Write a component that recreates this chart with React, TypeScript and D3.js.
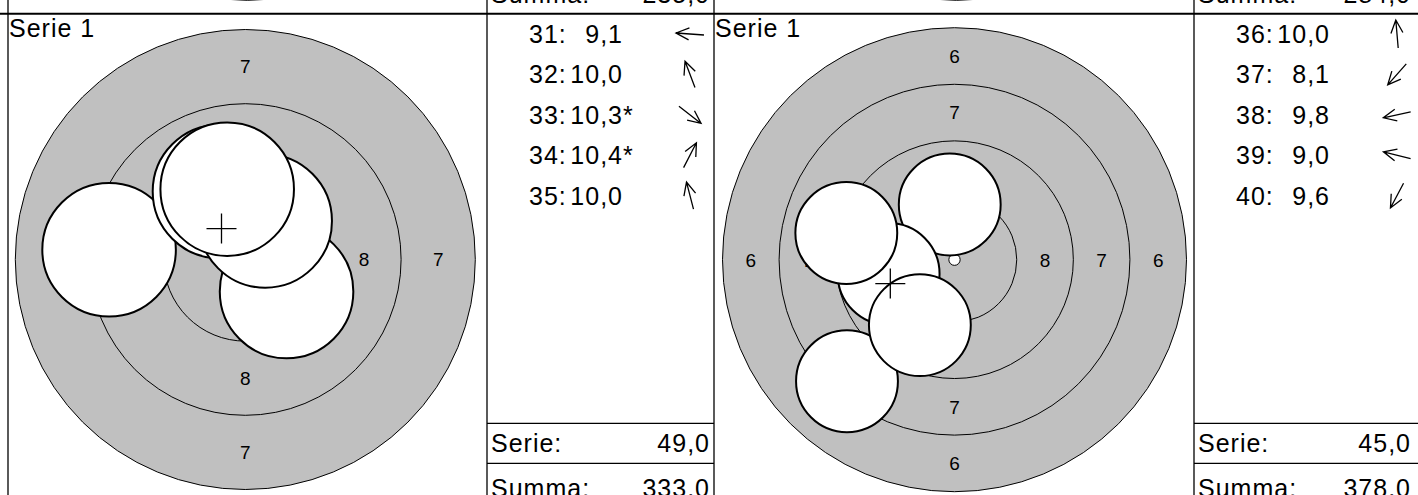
import { useEffect } from "react";
import * as d3 from "d3";

// ring geometry of the 10m air rifle target, in mm
const ringNumbers = [1, 2, 3, 4, 5, 6, 7, 8, 9, 10];
const ringRadiusMm = [22.75, 20.25, 17.75, 15.25, 12.75, 10.25, 7.75, 5.25, 2.75, 0.25];
const pelletRadiusMm = 2.25;

// one entry per panel
const seriesLabels = ["Serie 1", "Serie 1"];
const outerRings = [7, 6];
const shotNumbers = [
  [31, 32, 33, 34, 35],
  [36, 37, 38, 39, 40],
];
const shotScores = [
  ["9,1", "10,0", "10,3", "10,4", "10,0"],
  ["10,0", "8,1", "9,8", "9,0", "9,6"],
];
const innerTens = [
  [false, false, true, true, false],
  [false, false, false, false, false],
];
// shot centres in mm from target centre (x right, y up)
const shotX = [
  [-4.59, -0.87, 1.39, 0.67, -0.61],
  [-0.21, -4.75, -2.91, -4.78, -1.53],
];
const shotY = [
  [0.33, 2.29, -1.08, 1.3, 2.37],
  [2.44, -5.37, -0.63, 1.18, -2.89],
];
const serieTotals = ["49,0", "45,0"];
const summaTotals = ["333,0", "378,0"];
const previousSumma = ["235,0", "284,0"];

// layout
const W = 1418;
const H = 495;
const topLine = 13.7;
const targetCx = [245.3, 954.5];
const targetCy = [259.5, 259.7];
const targetR = [230, 232];
const panelLeft = [8, 714];
const listLeft = [487, 1194];
const listRight = [714, 1415];
const rowY0 = 34;
const rowStep = 40.4;
const serieLine = 423.3;
const summaLine = 463.3;

const font = "'Liberation Sans', Arial, Helvetica, sans-serif";

function Target({ p }: { p: number }) {
  const cx = targetCx[p];
  const cy = targetCy[p];
  const R = targetR[p];
  const outerIdx = ringNumbers.indexOf(outerRings[p]);
  const outerMm = ringRadiusMm[outerIdx];
  const x = d3.scaleLinear().domain([-outerMm, outerMm]).range([cx - R, cx + R]);
  const y = d3.scaleLinear().domain([-outerMm, outerMm]).range([cy + R, cy - R]);
  const k = R / outerMm;

  const rings = ringNumbers
    .map((n, i) => ({ n, r: ringRadiusMm[i] }))
    .filter((d) => d.n >= outerRings[p]);
  const labels = rings
    .filter((d) => d.n <= 8)
    .map((d) => {
      const next = ringRadiusMm[ringNumbers.indexOf(d.n) + 1];
      return { n: d.n, r: ((d.r + next) / 2) * k };
    });

  const mx = d3.mean(shotX[p]) as number;
  const my = d3.mean(shotY[p]) as number;

  return (
    <g>
      {rings.map((d) => (
        <circle
          key={d.n}
          cx={cx}
          cy={cy}
          r={d.r * k}
          fill={d.n === outerRings[p] ? "#c0c0c0" : d.n === 10 ? "#fff" : "none"}
          stroke="#000"
          strokeWidth={1}
        />
      ))}
      {labels.map((d) =>
        [
          [0, -d.r],
          [0, d.r],
          [-d.r, 0],
          [d.r, 0],
        ].map(([dx, dy], j) => (
          <text
            key={`${d.n}-${j}`}
            x={cx + dx}
            y={cy + dy}
            dy="0.36em"
            textAnchor="middle"
            fontSize={19}
            fontFamily={font}
          >
            {d.n}
          </text>
        )),
      )}
      {shotX[p].map((sx, i) => (
        <circle
          key={i}
          cx={x(sx)}
          cy={y(shotY[p][i])}
          r={pelletRadiusMm * k}
          fill="#fff"
          stroke="#000"
          strokeWidth={2}
        />
      ))}
      <path
        d={`M${x(mx) - 15},${y(my)}H${x(mx) + 15}M${x(mx)},${y(my) - 15}V${y(my) + 15}`}
        stroke="#000"
        strokeWidth={1.3}
        fill="none"
      />
    </g>
  );
}

function Arrow({ p, i, cx, cy }: { p: number; i: number; cx: number; cy: number }) {
  const a = Math.atan2(-shotY[p][i], shotX[p][i]);
  const ux = Math.cos(a);
  const uy = Math.sin(a);
  const L = 28;
  const hl = 13;
  const hw = 6;
  const tx = cx + (ux * L) / 2;
  const ty = cy + (uy * L) / 2;
  const bx = cx - (ux * L) / 2;
  const by = cy - (uy * L) / 2;
  const px = -uy;
  const py = ux;
  const h1 = [tx - ux * hl + px * hw, ty - uy * hl + py * hw];
  const h2 = [tx - ux * hl - px * hw, ty - uy * hl - py * hw];
  return (
    <path
      d={`M${bx},${by}L${tx},${ty}M${h1[0]},${h1[1]}L${tx},${ty}L${h2[0]},${h2[1]}`}
      stroke="#000"
      strokeWidth={1.3}
      fill="none"
    />
  );
}

function ShotList({ p }: { p: number }) {
  const L = listLeft[p];
  const Rr = listRight[p];
  return (
    <g fontFamily={font} fontSize={25} letterSpacing={1}>
      {shotNumbers[p].map((n, i) => {
        const cy = rowY0 + i * rowStep;
        return (
          <g key={n}>
            <text x={L + 42} y={cy + 9}>
              {n}:
            </text>
            <text x={L + 136} y={cy + 9} textAnchor="end">
              {shotScores[p][i]}
            </text>
            {innerTens[p][i] && (
              <text x={L + 136} y={cy + 9}>
                *
              </text>
            )}
            <Arrow p={p} i={i} cx={L + 203} cy={cy} />
          </g>
        );
      })}
      <line x1={L} x2={p === 1 ? W : Rr} y1={serieLine} y2={serieLine} stroke="#000" strokeWidth={1.3} />
      <line x1={L} x2={p === 1 ? W : Rr} y1={summaLine} y2={summaLine} stroke="#000" strokeWidth={1.3} />
      <text x={L + 4} y={452.3}>Serie:</text>
      <text x={Rr - 4} y={452.3} textAnchor="end">
        {serieTotals[p]}
      </text>
      <text x={L + 4} y={497}>Summa:</text>
      <text x={Rr - 4} y={497} textAnchor="end">
        {summaTotals[p]}
      </text>
      {/* bottom of the row above */}
      <text x={L + 4} y={3.3}>Summa:</text>
      <text x={Rr - 4} y={3.3} textAnchor="end">
        {previousSumma[p]}
      </text>
    </g>
  );
}

export default function App() {
  useEffect(() => {
    document.body.style.margin = "0";
    document.body.style.overflow = "hidden";
  }, []);

  return (
    <svg
      width={W}
      height={H}
      viewBox={`0 0 ${W} ${H}`}
      style={{ position: "absolute", left: 0, top: 0, background: "#fff" }}
    >
      <rect width={W} height={H} fill="#fff" />
      {[0, 1].map((p) => (
        <g key={p}>
          {/* outer ring of the target in the row above */}
          <circle
            cx={targetCx[p] + 2}
            cy={0.3 - targetR[p]}
            r={targetR[p]}
            fill="#c0c0c0"
            stroke="#000"
            strokeWidth={1}
          />
          <Target p={p} />
          <ShotList p={p} />
          <text x={panelLeft[p] + 1} y={37.3} fontFamily={font} fontSize={25} letterSpacing={1}>
            {seriesLabels[p]}
          </text>
        </g>
      ))}
      <line x1={0} x2={W} y1={topLine} y2={topLine} stroke="#000" strokeWidth={2} />
      {[8, 487, 714, 1194].map((vx) => (
        <line key={vx} x1={vx} x2={vx} y1={0} y2={H} stroke="#000" strokeWidth={1.3} />
      ))}
    </svg>
  );
}
